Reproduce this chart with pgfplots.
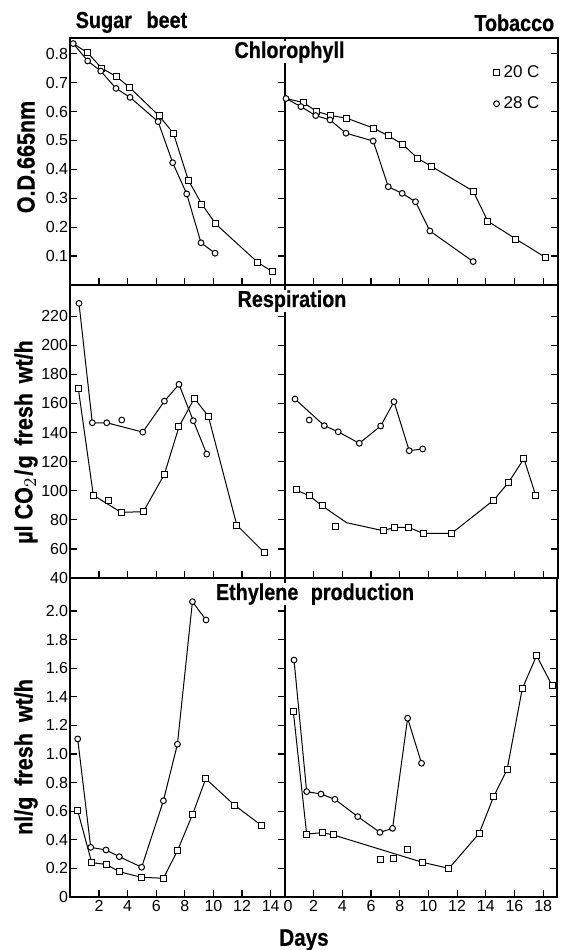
\documentclass[border=0pt]{standalone}
\usepackage{pgfplots}
\pgfplotsset{compat=1.18}
\usepackage{fontspec}
\setmainfont{Liberation Sans}
\newfontfamily\cond[FakeStretch=0.86, BoldFeatures={FakeBold=0.6}]{Liberation Sans}
\begin{document}
\begin{tikzpicture}[x=1pt,y=1pt]
\useasboundingbox (0,0) rectangle (281.5,475);
\pgfplotsset{
  base/.style={scale only axis, axis line style={line width=1pt}, tick align=inside,
    major tick length=3.5pt, tick style={line width=0.6pt, black}, xtick pos=lower, xmin=0,
    ticklabel style={font=\fontsize{8}{9}\selectfont},
    xticklabel style={inner ysep=1.5pt},
    every axis plot/.append style={line width=0.5pt, black}},
  L/.style={base, at={(35.2pt,#1)}, anchor=south west, width=107.3pt, xmax=15,
    xtick={2,4,...,14}, yticklabel style={inner xsep=1pt}},
  R/.style={base, at={(142.5pt,#1)}, anchor=south west, width=136.25pt, xmax=19,
    xtick={0,2,...,18}, ytick pos=right, yticklabels={}},
  sq/.style={only marks, mark=square*, mark size=1.5pt, mark options={fill=white, draw=black, line width=0.5pt}},
  ci/.style={only marks, mark=*, mark size=1.45pt, mark options={fill=white, draw=black, line width=0.5pt}},
  ln/.style={no marks, line width=0.5pt, black, forget plot},
}
% ---------- Chlorophyll, sugar beet ----------
\begin{axis}[L=332.5pt, height=123.75pt, ymin=0, ymax=0.856,
  ytick={0.1,0.2,0.3,0.4,0.5,0.6,0.7,0.8}, yticklabels={0.1,0.2,0.3,0.4,0.5,0.6,0.7,0.8}, xticklabels={}]
\addplot[ln] coordinates {(0.2,0.835) (1.18,0.804) (2.19,0.75) (3.24,0.72) (4.12,0.684) (6.2,0.585) (7.2,0.525) (8.24,0.363) (9.18,0.28) (10.16,0.211) (13.1,0.078) (14.12,0.046)};
\addplot[ln] coordinates {(0.2,0.835) (1.21,0.775) (2.12,0.74) (3.19,0.68) (4.17,0.649) (6.13,0.565) (7.15,0.423) (8.13,0.315) (9.13,0.146) (10.11,0.11)};
\addplot[sq] coordinates {(1.18,0.804) (2.19,0.75) (3.24,0.72) (4.12,0.684) (6.2,0.585) (7.2,0.525) (8.24,0.363) (9.18,0.28) (10.16,0.211) (13.1,0.078) (14.12,0.046)};
\addplot[ci] coordinates {(0.2,0.835) (1.21,0.775) (2.12,0.74) (3.19,0.68) (4.17,0.649) (6.13,0.565) (7.15,0.423) (8.13,0.315) (9.13,0.146) (10.11,0.11)};
\end{axis}
% ---------- Chlorophyll, tobacco ----------
\begin{axis}[R=332.5pt, height=123.75pt, ymin=0, ymax=0.856,
  ytick={0.1,0.2,0.3,0.4,0.5,0.6,0.7,0.8}, xticklabels={},
  legend style={at={(0.95,0.905)}, anchor=north east, draw=none, fill=none, inner sep=0pt,
    font=\fontsize{8.5}{9}\selectfont, row sep=4pt, /tikz/every even column/.append style={column sep=1pt}},
  legend cell align=left]
\addplot[ln] coordinates {(0.07,0.645) (1.28,0.631) (2.21,0.60) (3.18,0.586) (4.3,0.577) (6.2,0.542) (7.2,0.516) (8.2,0.487) (9.25,0.438) (10.22,0.41) (13.12,0.325) (14.13,0.221) (16.1,0.159) (18.17,0.095)};
\addplot[ln] coordinates {(0.07,0.645) (1.11,0.617) (2.14,0.586) (3.14,0.571) (4.25,0.525) (6.15,0.498) (7.2,0.34) (8.17,0.317) (9.1,0.288) (10.1,0.187) (13.12,0.081)};
\addplot[sq] coordinates {(1.28,0.631) (2.21,0.60) (3.18,0.586) (4.3,0.577) (6.2,0.542) (7.2,0.516) (8.2,0.487) (9.25,0.438) (10.22,0.41) (13.12,0.325) (14.13,0.221) (16.1,0.159) (18.17,0.095)};
\addlegendentry{20 C}
\addplot[ci] coordinates {(0.07,0.645) (1.11,0.617) (2.14,0.586) (3.14,0.571) (4.25,0.525) (6.15,0.498) (7.2,0.34) (8.17,0.317) (9.1,0.288) (10.1,0.187) (13.12,0.081)};
\addlegendentry{28 C}
\end{axis}
% ---------- Respiration, sugar beet ----------
\begin{axis}[L=186pt, height=146.5pt, ymin=40, ymax=241.4,
  ytick={40,60,...,220}, yticklabels={40,60,80,100,120,140,160,180,200,220}, xticklabels={}]
\addplot[ln] coordinates {(0.55,170.4) (1.6,97) (3.54,85.1) (5.1,85.6) (6.57,111.3) (7.59,144) (8.66,163.5) (9.64,151.3) (11.63,76.4) (13.56,57.4)};
\addplot[ln] coordinates {(0.6,228.8) (1.53,146.7) (2.54,146.7) (5.06,140.3) (6.57,161.6) (7.59,173.1) (8.59,148.1) (9.53,125.2)};
\addplot[sq] coordinates {(0.55,170.4) (1.6,97) (2.65,93.6) (3.54,85.1) (5.1,85.6) (6.57,111.3) (7.59,144) (8.66,163.5) (9.64,151.3) (11.63,76.4) (13.56,57.4)};
\addplot[ci] coordinates {(0.6,228.8) (1.53,146.7) (2.54,146.7) (3.59,148.6) (5.06,140.3) (6.57,161.6) (7.59,173.1) (8.59,148.1) (9.53,125.2)};
\end{axis}
% ---------- Respiration, tobacco ----------
\begin{axis}[R=186pt, height=146.5pt, ymin=40, ymax=241.4,
  ytick={40,60,...,220}, xticklabels={}]
\addplot[ln] coordinates {(0.77,100.5) (1.69,96.6) (2.6,89.5) (4.3,78) (6.85,72.5) (7.62,74.8) (8.6,74.8) (9.64,70.7) (11.62,70.7) (14.56,93.6) (15.59,105.8) (16.66,122) (17.49,96.4)};
\addplot[ln] coordinates {(0.7,163) (2.74,144.7) (3.71,140.5) (5.18,132.6) (6.67,144.5) (7.6,161.2) (8.66,127.5) (9.6,128.7)};
\addplot[sq] coordinates {(0.77,100.5) (1.69,96.6) (2.6,89.5) (3.55,75.3) (6.85,72.5) (7.62,74.8) (8.6,74.8) (9.64,70.7) (11.62,70.7) (14.56,93.6) (15.59,105.8) (16.66,122) (17.49,96.4)};
\addplot[ci] coordinates {(0.7,163) (1.69,148.6) (2.74,144.7) (3.71,140.5) (5.18,132.6) (6.67,144.5) (7.6,161.2) (8.66,127.5) (9.6,128.7)};
\end{axis}
% ---------- Ethylene, sugar beet ----------
\begin{axis}[L=26.5pt, height=159.25pt, ymin=0, ymax=2.227,
  ytick={0,0.2,...,2.0}, yticklabels={0,0.2,0.4,0.6,0.8,1.0,1.2,1.4,1.6,1.8,2.0},
  xticklabels={2,4,6,8,10,12,14}]
\addplot[ln] coordinates {(0.51,0.603) (1.49,0.24) (2.49,0.228) (3.42,0.177) (4.94,0.138) (6.5,0.131) (7.48,0.323) (8.55,0.58) (9.46,0.827) (11.46,0.643) (13.38,0.498)};
\addplot[ln] coordinates {(0.51,1.105) (1.42,0.347) (2.49,0.329) (3.42,0.282) (4.98,0.208) (6.5,0.673) (7.48,1.068) (8.53,2.065) (9.48,1.937)};
\addplot[sq] coordinates {(0.51,0.603) (1.49,0.24) (2.49,0.228) (3.42,0.177) (4.94,0.138) (6.5,0.131) (7.48,0.323) (8.55,0.58) (9.46,0.827) (11.46,0.643) (13.38,0.498)};
\addplot[ci] coordinates {(0.51,1.105) (1.42,0.347) (2.49,0.329) (3.42,0.282) (4.98,0.208) (6.5,0.673) (7.48,1.068) (8.53,2.065) (9.48,1.937)};
\end{axis}
% ---------- Ethylene, tobacco ----------
\begin{axis}[R=26.5pt, height=159.25pt, ymin=0, ymax=2.227,
  ytick={0,0.2,...,2.0},
  xticklabels={\hspace{3pt}0,2,4,6,8,10,12,14,16,18}]
\addplot[ln] coordinates {(0.58,1.296) (1.51,0.44) (2.6,0.45) (3.37,0.434) (9.57,0.243) (11.43,0.2) (13.54,0.445) (14.54,0.70) (15.49,0.893) (16.54,1.455) (17.54,1.688) (18.63,1.478)};
\addplot[ln] coordinates {(0.63,1.657) (1.51,0.737) (2.51,0.72) (3.48,0.683) (5.07,0.562) (6.62,0.452) (7.5,0.48) (8.55,1.25) (9.52,0.935)};
\addplot[sq] coordinates {(0.58,1.296) (1.51,0.44) (2.6,0.45) (3.37,0.434) (6.69,0.259) (7.55,0.266) (8.55,0.329) (9.57,0.243) (11.43,0.2) (13.54,0.445) (14.54,0.70) (15.49,0.893) (16.54,1.455) (17.54,1.688) (18.63,1.478)};
\addplot[ci] coordinates {(0.63,1.657) (1.51,0.737) (2.51,0.72) (3.48,0.683) (5.07,0.562) (6.62,0.452) (7.5,0.48) (8.55,1.25) (9.52,0.935)};
\end{axis}
% ---------- titles and labels ----------
\tikzset{ttl/.style={font=\cond\bfseries\fontsize{11.5}{13}\selectfont, inner xsep=1.5pt, inner ysep=0pt, text height=8.6pt, text depth=2.4pt}}
\node[ttl, fill=white, anchor=base] at (144.75,446) {Chlorophyll};
\node[ttl, fill=white, anchor=base] at (146,321.5) {Respiration};
\node[ttl, fill=white, anchor=base] at (157.5,175) {Ethylene\hspace{0.3em} production};
\node[ttl, anchor=base] at (65.75,461) {Sugar\hspace{0.4em} beet};
\node[ttl, anchor=base east] at (278.8,459.5) {Tobacco};
\tikzset{yl/.style={font=\cond\bfseries\fontsize{12.5}{13}\selectfont, rotate=90, inner sep=0pt}}
\node[yl] at (13,396.5) {O.D.665nm};
\node[yl] at (13,254) {µl CO$_2$\hspace{0.05em}/\hspace{0.05em}g\hspace{0.15em} fresh\hspace{0.15em} wt/h};
\node[yl] at (13,96.5) {nl/g\hspace{0.2em} fresh\hspace{0.2em} wt/h};
\node[font=\cond\bfseries\fontsize{12}{13}\selectfont] at (152,5) {Days};
\end{tikzpicture}
\end{document}
